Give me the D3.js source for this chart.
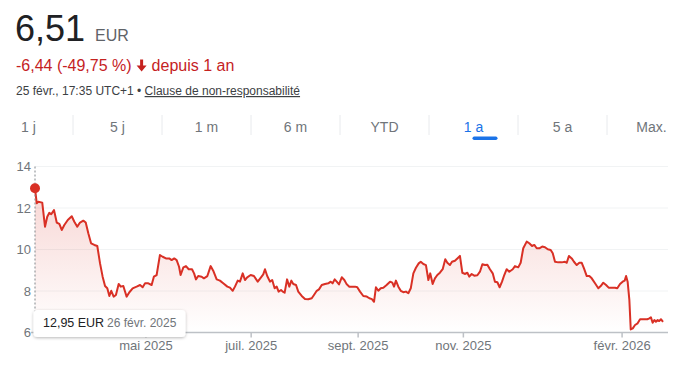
<!DOCTYPE html>
<html><head><meta charset="utf-8">
<script src="https://cdn.jsdelivr.net/npm/d3@7"></script>
<style>
body{margin:0;background:#fff;}
svg{display:block;font-family:Arial,"Liberation Sans",sans-serif;}
</style>
</head><body>
<svg id="c" width="679" height="372"></svg>
<script>
// ---- data ----
const startDate = "2025-02-26";
const endDate = "2026-02-25";
// days since 26 févr. 2025
const dayOffsets = [0,1.0,1.9,4.2,5.8,7.1,8.3,9.4,11.0,12.6,
14.1,15.5,17.0,19.0,21.3,22.8,24.5,26.1,28.0,29.4,
30.9,32.5,34.4,36.1,37.7,39.2,40.6,41.9,43.1,44.2,
45.6,46.9,48.5,49.7,51.2,53.1,54.7,56.6,58.9,60.9,
62.4,63.8,65.7,67.6,68.9,70.5,72.4,74.0,75.9,77.8,
79.2,80.7,82.1,83.5,84.4,86.0,87.5,89.1,91.0,92.2,
93.3,94.6,96.6,97.9,99.9,101.8,103.3,105.3,107.2,109.1,
111.5,113.0,114.6,115.9,117.5,118.8,120.4,121.7,123.0,125.0,
126.9,129.1,131.0,132.3,133.3,134.6,136.2,137.5,138.9,140.1,
141.2,142.6,143.6,144.7,146.1,147.4,148.6,149.7,151.3,152.6,
154.6,156.5,158.4,160.4,161.7,163.3,164.6,166.2,168.1,170.0,
171.4,172.5,173.7,174.9,176.2,177.8,179.3,180.7,182.2,185.5,
186.8,188.4,190.3,192.3,193.8,195.3,196.5,197.6,199.0,200.4,
201.9,203.8,205.8,207.1,208.1,209.2,210.6,212.0,213.5,215.0,
216.4,217.8,219.3,220.8,222.4,223.6,225.1,226.6,228.0,229.1,
230.5,231.8,233.2,234.7,236.3,237.8,239.0,240.5,241.7,243.4,
244.8,246.3,247.7,249.1,250.6,251.7,253.1,254.6,256.4,257.9,
259.3,260.8,262.2,263.7,265.3,266.6,268.0,269.3,270.7,272.0,
273.4,274.9,276.9,278.2,280.1,281.5,283.0,285.0,286.5,288.1,
289.4,290.8,292.3,294.0,295.6,297.2,298.9,300.1,301.4,303.3,
305.3,307.2,308.2,309.5,311.1,312.4,314.0,315.5,316.9,318.2,
319.8,321.3,322.7,324.6,326.5,327.9,329.4,331.0,332.5,334.3,
336.2,337.5,339.1,340.6,341.8,342.6,343.5,344.5,345.3,346.5,
347.8,349.3,350.7,352.2,353.6,354.9,356.1,357.0,358.0,359.0,
359.9,360.9,361.8,362.8,364];
const prices = [12.95,12.23,12.3,12.26,11.1,11.58,11.77,11.7,11.9,11.3,
11.23,10.94,11.18,11.42,11.6,11.34,11.1,11.3,11.39,11.3,
10.78,10.3,10.22,10.17,9.33,8.69,8.24,8.13,7.76,8.01,
7.73,7.81,8.34,8.21,8.24,7.73,7.94,8.13,8.21,8.29,
8.18,8.37,8.37,8.29,8.69,8.77,9.73,9.65,9.57,9.57,
9.49,9.57,9.49,9.17,8.77,9.14,9.2,9.05,9.05,8.85,
8.56,8.72,8.69,8.61,8.72,9.2,8.98,8.56,8.5,8.37,
8.21,8.16,8.01,8.21,8.5,8.45,8.85,8.53,8.66,8.77,
8.72,8.45,8.66,8.8,9.05,8.72,8.45,8.53,8.13,8.21,
7.97,8.05,7.97,7.92,8.56,8.21,8.5,8.34,8.29,7.97,
7.76,7.61,7.6,7.65,7.81,8.01,8.08,8.29,8.34,8.37,
8.45,8.37,8.56,8.45,8.32,8.66,8.53,8.32,8.21,8.21,
8.18,7.97,7.76,7.73,7.65,7.61,7.48,8.18,8.01,8.13,
8.16,8.29,8.45,8.4,8.21,8.5,8.21,8.01,7.94,7.97,
7.89,8.13,8.85,9.12,9.33,9.41,9.3,9.25,8.53,8.85,
8.34,8.61,8.77,8.88,9.05,9.53,9.36,9.25,9.41,9.46,
9.57,9.69,8.88,8.82,8.88,8.69,8.82,8.74,8.76,8.93,
9.29,9.25,9.27,9.05,8.85,8.45,8.42,8.18,8.45,8.77,
9.05,8.93,9.05,9.2,9.14,9.36,10.06,10.38,10.3,10.17,
10.22,10.06,10.06,10.14,10.11,10.01,9.98,9.82,9.41,9.38,
9.38,9.41,9.36,9.69,9.57,9.41,9.25,9.36,9.36,9.09,
8.72,8.72,8.61,8.37,8.13,8.24,8.4,8.29,8.16,8.16,
8.16,8.13,8.34,8.45,8.5,8.72,8.45,7.57,6.15,6.2,
6.36,6.44,6.64,6.64,6.64,6.64,6.68,6.73,6.47,6.6,
6.52,6.6,6.55,6.64,6.51];
const yTicks = [6,8,10,12,14];
const xTickDates = ["2025-05-01","2025-07-01","2025-09-01","2025-11-01","2026-02-01"];
const xTickLabels = ["mai 2025","juil. 2025","sept. 2025","nov. 2025","févr. 2026"];
const tabs = ["1 j","5 j","1 m","6 m","YTD","1 a","5 a","Max."];
const activeTab = "1 a";
const headPrice = "6,51";
const headCurrency = "EUR";
const changeText = "-6,44 (-49,75 %)";
const changeSuffix = "depuis 1 an";
const dateText = "25 févr., 17:35 UTC+1 • ";
const disclaimer = "Clause de non-responsabilité";
const tipValue = "12,95 EUR";
const tipDate = "26 févr. 2025";

// ---- drawing ----
const svg = d3.select("#c");
const parse = d3.timeParse("%Y-%m-%d");
const t0 = parse(startDate);
const data = dayOffsets.map((d,i)=>({date:new Date(t0.getTime()+d*864e5), v:prices[i]}));

const RED = "#d93025", TXT_RED = "#c5221f", GREY = "#70757a";

// header
svg.append("text").attr("x",15).attr("y",41).attr("font-size",36).attr("fill","#202124").text(headPrice);
svg.append("text").attr("x",95).attr("y",41).attr("font-size",16).attr("fill","#5f6368").text(headCurrency);
const ch = svg.append("text").attr("x",16).attr("y",71).attr("font-size",16).attr("fill",TXT_RED).text(changeText);
const chW = ch.node().getComputedTextLength();
const ax = 16 + chW + 5;
svg.append("path").attr("fill",TXT_RED)
  .attr("d",`M${ax+3.5},59.5h3v6h3.5l-5,6l-5,-6h3.5z`);
svg.append("text").attr("x",ax+15).attr("y",71).attr("font-size",16).attr("fill",TXT_RED).text(changeSuffix);

const dt = svg.append("text").attr("x",16).attr("y",95).attr("font-size",12).attr("fill","#3c4043");
dt.append("tspan").text(dateText);
dt.append("tspan").attr("text-decoration","underline").text(disclaimer);

// tabs
const tabX = d3.scaleBand().domain(tabs).range([-16,696]);
const tg = svg.append("g");
tabs.forEach((t,i)=>{
  const cx = tabX(t)+tabX.bandwidth()/2;
  tg.append("text").attr("x",cx).attr("y",132).attr("text-anchor","middle").attr("font-size",14)
    .attr("fill", t===activeTab ? "#1a73e8" : GREY).text(t);
  if(i>0){
    tg.append("line").attr("x1",tabX(t)).attr("x2",tabX(t)).attr("y1",115).attr("y2",135)
      .attr("stroke","#e8eaed").attr("stroke-width",1);
  }
  if(t===activeTab){
    tg.append("rect").attr("x",cx-1).attr("y",136.5).attr("width",25).attr("height",3.5)
      .attr("rx",1.7).attr("fill","#1a73e8");
  }
});

// chart
const x = d3.scaleTime().domain([t0, parse(endDate)]).range([35,663]);
const y = d3.scaleLinear().domain([6,14]).range([332.5,166.5]);

const defs = svg.append("defs");
const grad = defs.append("linearGradient").attr("id","fillg").attr("gradientUnits","userSpaceOnUse")
  .attr("x1",0).attr("x2",0).attr("y1",y(13)).attr("y2",y(6));
grad.append("stop").attr("offset","0%").attr("stop-color",RED).attr("stop-opacity",0.2);
grad.append("stop").attr("offset","100%").attr("stop-color",RED).attr("stop-opacity",0);
const sh = defs.append("filter").attr("id","sh").attr("x","-20%").attr("y","-40%").attr("width","140%").attr("height","200%");
sh.append("feDropShadow").attr("dx",0).attr("dy",1).attr("stdDeviation",1.5).attr("flood-color","#000").attr("flood-opacity",0.28);

// gridlines
svg.append("g").selectAll("line").data(yTicks.filter(d=>d>6)).join("line")
  .attr("x1",35).attr("x2",668).attr("y1",d=>y(d)).attr("y2",d=>y(d))
  .attr("stroke","#f1f3f4").attr("stroke-width",1);

// y labels
const yAxis = svg.append("g").attr("transform","translate(31,0)")
  .call(d3.axisLeft(y).tickValues(yTicks).tickSize(0).tickPadding(0).tickFormat(d3.format("d")));
yAxis.select(".domain").remove();
yAxis.selectAll("text").attr("font-size",13).attr("fill",GREY).attr("font-family",null);

// area + line
svg.append("path").datum(data).attr("fill","url(#fillg)")
  .attr("d", d3.area().x(d=>x(d.date)).y0(y(6)).y1(d=>y(d.v)));
svg.append("path").datum(data).attr("fill","none").attr("stroke",RED).attr("stroke-width",2)
  .attr("stroke-linejoin","round")
  .attr("d", d3.line().x(d=>x(d.date)).y(d=>y(d.v)));

// x axis
svg.append("line").attr("x1",31).attr("x2",668).attr("y1",y(6)).attr("y2",y(6))
  .attr("stroke","#bdc1c6").attr("stroke-width",1.5);
const xAxis = svg.append("g").attr("transform",`translate(0,${y(6)})`)
  .call(d3.axisBottom(x).tickValues(xTickDates.map(parse)).tickFormat((d,i)=>xTickLabels[i])
    .tickSize(5).tickSizeOuter(0).tickPadding(3));
xAxis.select(".domain").remove();
xAxis.selectAll("line").attr("stroke","#bdc1c6").attr("stroke-width",1.5);
xAxis.selectAll("text").attr("font-size",13).attr("fill",GREY).attr("font-family",null);

// hover marker
svg.append("line").attr("x1",x(t0)).attr("x2",x(t0)).attr("y1",y(14)).attr("y2",y(6))
  .attr("stroke","#80868b").attr("stroke-width",1).attr("stroke-dasharray","2,2");
svg.append("circle").attr("cx",x(t0)).attr("cy",y(prices[0])).attr("r",5).attr("fill",RED);

// tooltip
svg.append("rect").attr("x",33.5).attr("y",310).attr("width",152).attr("height",27).attr("rx",4)
  .attr("fill","#fff").attr("filter","url(#sh)");
svg.append("text").attr("x",43).attr("y",327).attr("font-size",12.5).attr("fill","#202124").text(tipValue);
svg.append("text").attr("x",107).attr("y",327).attr("font-size",12).attr("fill",GREY).text(tipDate);
</script>
</body></html>
